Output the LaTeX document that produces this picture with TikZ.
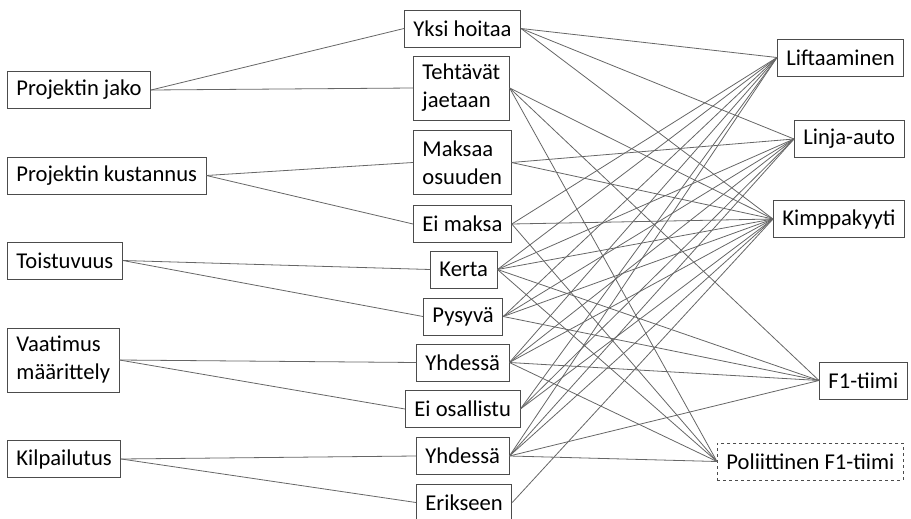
\documentclass[tikz,border=0pt]{standalone}
\usepackage{fontspec}
\setmainfont{Carlito}
\usetikzlibrary{positioning}
\tikzset{block/.style={draw=black!70, line width=0.9pt, fill=white, anchor=west, align=left, inner xsep=9pt, minimum height=37pt, font=\fontsize{22.6}{28}\selectfont}}
\tikzset{tallblock/.style={block, minimum height=64pt}}
\tikzset{connect/.style={draw=black!60, line width=0.8pt}}

\begin{document}
\begin{tikzpicture}[x=1pt,y=-1pt]
\useasboundingbox (0,0) rectangle (911,519);

%left column
\node[block] (projjako) at (7,90) {Projektin jako};
\node[block] (projkust) at (7,175.5) {Projektin kustannus};
\node[block] (toist) at (7,260.5) {Toistuvuus};
\node[tallblock] (vaat) at (7,360) {Vaatimus\\määrittely};
\node[block] (kilp) at (7,459) {Kilpailutus};

%middle column
\node[block] (yksi) at (404,28.5) {Yksi hoitaa};
\node[tallblock] (tehtavat) at (413,88) {Tehtävät\\jaetaan};
\node[tallblock] (maksaa) at (413,162.5) {Maksaa\\osuuden};
\node[block] (eimaksa) at (413,224) {Ei maksa};
\node[block] (kerta) at (430,269.5) {Kerta};
\node[block] (pysyva) at (423,316.5) {Pysyvä};
\node[block] (yhdessaA) at (416,362.5) {Yhdessä};
\node[block] (eiosall) at (405,409) {Ei osallistu};
\node[block] (yhdessaB) at (416,456) {Yhdessä};
\node[block] (erikseen) at (416,502.5) {Erikseen};

%right column
\node[block] (lift) at (777,57.5) {Liftaaminen};
\node[block] (linja) at (794,139) {Linja-auto};
\node[block] (kimppa) at (773,219) {Kimppakyyti};
\node[block] (fone) at (819,380.5) {F1-tiimi};
\node[block, dashed] (polit) at (717,461.5) {Poliittinen F1-tiimi};

%left to middle
\path[connect] (projjako.east) -- (yksi.west);
\path[connect] (projjako.east) -- (tehtavat.west);
\path[connect] (projkust.east) -- (maksaa.west);
\path[connect] (projkust.east) -- (eimaksa.west);
\path[connect] (toist.east) -- (kerta.west);
\path[connect] (toist.east) -- (pysyva.west);
\path[connect] (vaat.east) -- (yhdessaA.west);
\path[connect] (vaat.east) -- (eiosall.west);
\path[connect] (kilp.east) -- (yhdessaB.west);
\path[connect] (kilp.east) -- (erikseen.west);

%projektin jako
\path[connect] (yksi.east) -- (lift.west);
\path[connect] (yksi.east) -- (linja.west);
\path[connect] (yksi.east) -- (kimppa.west);
\path[connect] (tehtavat.east) -- (kimppa.west);
\path[connect] (tehtavat.east) -- (fone.west);
\path[connect] (tehtavat.east) -- (polit.west);

%projektin kustannus
\path[connect] (maksaa.east) -- (linja.west);
\path[connect] (maksaa.east) -- (kimppa.west);
\path[connect] (eimaksa.east) -- (lift.west);
\path[connect] (eimaksa.east) -- (kimppa.west);
\path[connect] (eimaksa.east) -- (polit.west);

%toistuvuus
\path[connect] (kerta.east) -- (lift.west);
\path[connect] (kerta.east) -- (linja.west);
\path[connect] (kerta.east) -- (kimppa.west);
\path[connect] (kerta.east) -- (fone.west);
\path[connect] (kerta.east) -- (polit.west);
\path[connect] (pysyva.east) -- (lift.west);
\path[connect] (pysyva.east) -- (linja.west);
\path[connect] (pysyva.east) -- (kimppa.west);
\path[connect] (pysyva.east) -- (fone.west);

%vaatimus maarittely
\path[connect] (yhdessaA.east) -- (lift.west);
\path[connect] (yhdessaA.east) -- (linja.west);
\path[connect] (yhdessaA.east) -- (kimppa.west);
\path[connect] (yhdessaA.east) -- (fone.west);
\path[connect] (yhdessaA.east) -- (polit.west);
\path[connect] (eiosall.east) -- (lift.west);
\path[connect] (eiosall.east) -- (linja.west);
\path[connect] (eiosall.east) -- (kimppa.west);

%kilpailutus
\path[connect] (yhdessaB.east) -- (lift.west);
\path[connect] (yhdessaB.east) -- (linja.west);
\path[connect] (yhdessaB.east) -- (kimppa.west);
\path[connect] (yhdessaB.east) -- (fone.west);
\path[connect] (yhdessaB.east) -- (polit.west);
\path[connect] (erikseen.east) -- (kimppa.west);

\end{tikzpicture}
\end{document}
